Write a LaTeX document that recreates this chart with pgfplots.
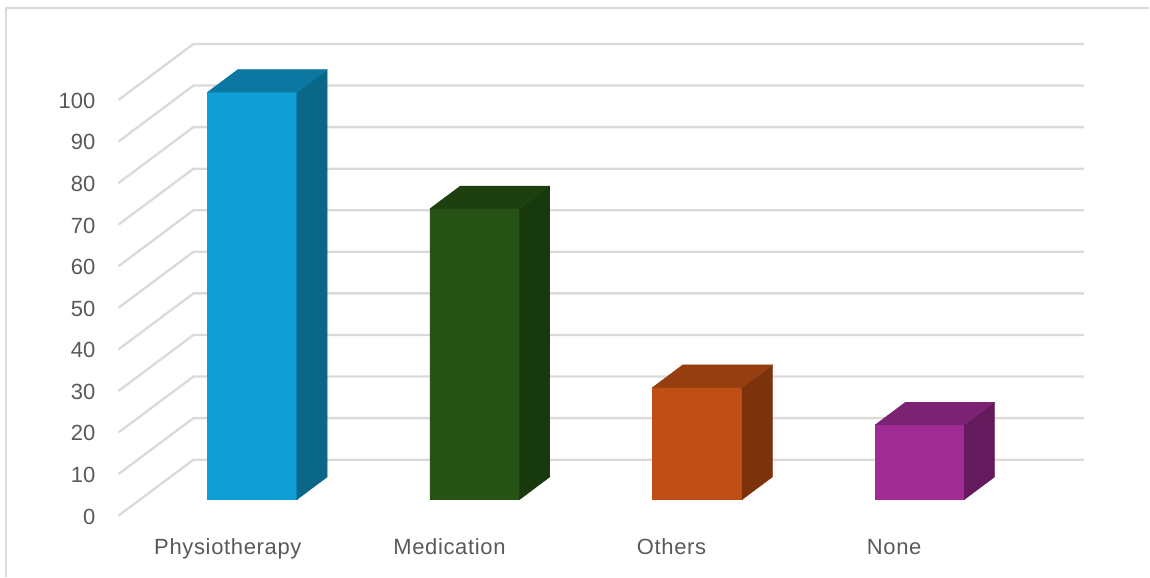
\documentclass[border=0pt]{standalone}
\usepackage{pgfplots}
\pgfplotsset{compat=1.18}
\usepackage{fontspec}
\setmainfont{Liberation Sans}
\newfontfamily\catfont[LetterSpace=3]{Liberation Sans}
\definecolor{gridgrey}{HTML}{DADADA}
\definecolor{labelgrey}{HTML}{595959}
\definecolor{blueF}{HTML}{0F9ED5}\definecolor{blueS}{HTML}{0A6788}\definecolor{blueT}{HTML}{0C78A2}
\definecolor{greenF}{HTML}{275317}\definecolor{greenS}{HTML}{18380E}\definecolor{greenT}{HTML}{1E4011}
\definecolor{orangeF}{HTML}{C04F15}\definecolor{orangeS}{HTML}{7C330D}\definecolor{orangeT}{HTML}{973E10}
\definecolor{purpleF}{HTML}{A02B93}\definecolor{purpleS}{HTML}{641A5C}\definecolor{purpleT}{HTML}{7C2272}
% One solid column: left edge, right edge, value, colour prefix
\newcommand{\column}[4]{%
  \addplot3[fill=#4F,draw=#4F,line width=.3pt,no marks] coordinates {(#1,.286,0) (#2,.286,0) (#2,.286,#3) (#1,.286,#3) (#1,.286,0)};
  \addplot3[fill=#4S,draw=#4S,line width=.3pt,no marks] coordinates {(#2,.286,0) (#2,.69,0) (#2,.69,#3) (#2,.286,#3) (#2,.286,0)};
  \addplot3[fill=#4T,draw=#4T,line width=.3pt,no marks] coordinates {(#1,.286,#3) (#2,.286,#3) (#2,.69,#3) (#1,.69,#3) (#1,.286,#3)};
}
\begin{document}
\begin{tikzpicture}
\begin{axis}[
  hide axis, clip=false,
  x={(222.75pt,0pt)}, y={(75pt,56pt)}, z={(0pt,4.16pt)},
  xmin=0, xmax=4, ymin=0, ymax=1, zmin=0, zmax=100,
]
% side wall and back wall gridlines
\pgfplotsinvokeforeach{0,10,20,30,40,50,60,70,80,90,100}{
  \addplot3[gridgrey,line width=2.3pt,no marks,line join=miter] coordinates {(0,0,#1) (0,1,#1) (4,1,#1)};
}
\column{0.303}{0.705}{98}{blue}
\column{1.303}{1.705}{70}{green}
\column{2.303}{2.705}{27}{orange}
\column{3.303}{3.703}{18}{purple}
% value labels
\pgfplotsinvokeforeach{0,10,20,30,40,50,60,70,80,90,100}{
  \node[anchor=base east,inner sep=0pt,text=labelgrey,font=\fontsize{22}{26}\selectfont]
    at ([xshift=-23pt,yshift=-8.5pt]axis cs:0,0,#1) {#1};
}
% category labels
\node[anchor=base,inner sep=0pt,text=labelgrey,font=\catfont\fontsize{22}{26}\selectfont] at ([xshift=-2pt,yshift=-39pt]axis cs:0.5,0,0) {Physiotherapy};
\node[anchor=base,inner sep=0pt,text=labelgrey,font=\catfont\fontsize{22}{26}\selectfont] at ([xshift=-3pt,yshift=-39pt]axis cs:1.5,0,0) {Medication};
\node[anchor=base,inner sep=0pt,text=labelgrey,font=\catfont\fontsize{22}{26}\selectfont] at ([xshift=-3.5pt,yshift=-39pt]axis cs:2.5,0,0) {Others};
\node[anchor=base,inner sep=0pt,text=labelgrey,font=\catfont\fontsize{22}{26}\selectfont] at ([xshift=-3.5pt,yshift=-39pt]axis cs:3.5,0,0) {None};
\coordinate (floor) at (axis cs:0,0,0);
\end{axis}
% page extent and the chart-area frame
\pgfresetboundingbox
\begin{scope}[shift={([shift={(-118.6pt,-61pt)}]floor)},x=1pt,y=1pt]
  \draw[gridgrey,line width=1.6pt] (6,0) -- (6,569) -- (1150,569);
  \path[use as bounding box] (0,0) rectangle (1150,577);
\end{scope}
\end{tikzpicture}
\end{document}
